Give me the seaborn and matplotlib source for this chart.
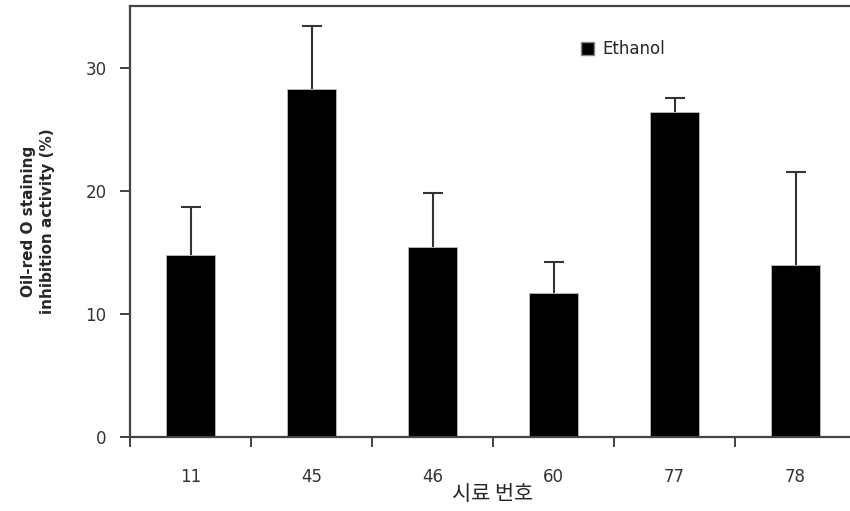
import numpy as np
import pandas as pd
import matplotlib
matplotlib.use('Agg')
import matplotlib.pyplot as plt
import seaborn as sns
from matplotlib.patches import Patch
from matplotlib.ticker import FixedLocator

samples = ['11', '45', '46', '60', '77', '78']
ethanol = [14.8, 28.3, 15.4, 11.7, 26.4, 14.0]
ethanol_err = [3.9, 5.1, 4.4, 2.5, 1.1, 7.5]

sns.set_style('white')
plt.rcParams['font.family'] = ['DejaVu Sans', 'Noto Sans CJK KR']

df = pd.DataFrame({'sample': samples, 'value': ethanol})

fig = plt.figure(figsize=(8.5, 5.11), dpi=100)
ax = fig.add_axes([130 / 850, (511 - 437) / 511, 726 / 850, 431 / 511])

sns.barplot(data=df, x='sample', y='value', color='black', width=0.4,
            saturation=1, errorbar=None, ax=ax)
for p in ax.patches:
    p.set_edgecolor('#bbbbbb')
    p.set_linewidth(0.6)

# only the upper half of each error bar is drawn
x = np.arange(len(samples))
eb = ax.errorbar(x, ethanol, yerr=[np.zeros(len(samples)), ethanol_err], fmt='none',
                 ecolor='#333333', elinewidth=1.5, capsize=7, capthick=1.5)
eb[1][0].set_visible(False)

ax.set_xlim(-0.5, 5.5)
ax.set_ylim(0, 35)
ax.set_yticks([0, 10, 20, 30])
ax.tick_params(axis='y', direction='out', length=7, width=1.3, color='#333333',
               labelsize=12, labelcolor='#333333', pad=10, left=True)
ax.tick_params(axis='x', which='major', length=0, labelsize=12,
               labelcolor='#333333', pad=22)
ax.xaxis.set_minor_locator(FixedLocator(np.arange(-0.5, 5.0, 1.0)))
ax.tick_params(axis='x', which='minor', direction='out', length=7, width=1.3,
               color='#333333', bottom=True)

for side in ['left', 'top', 'bottom']:
    ax.spines[side].set_color('#444444')
    ax.spines[side].set_linewidth(1.6)
ax.spines['right'].set_visible(False)

ax.set_xlabel('시료 번호', fontsize=15, family=['Noto Sans CJK KR'], labelpad=-2)
ax.set_ylabel('Oil-red O staining\ninhibition activity (%)', fontsize=11,
              fontweight='bold', labelpad=22, linespacing=1.3)

ax.legend(handles=[Patch(facecolor='black', edgecolor='#888888', label='Ethanol')],
          loc='center left', bbox_to_anchor=(0.6, 0.9), frameon=False,
          handlelength=0.8, handleheight=0.8, handletextpad=0.5, fontsize=12)

fig.savefig('out.png', dpi=100)
